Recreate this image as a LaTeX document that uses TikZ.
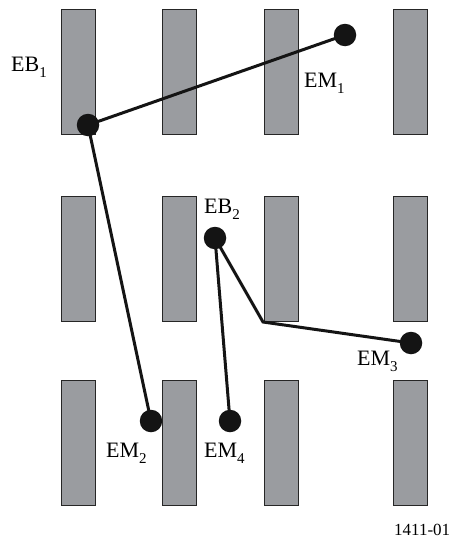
\documentclass[tikz,border=0pt]{standalone}
\usepackage{fontspec}
\setmainfont{Liberation Serif}
\definecolor{bargray}{HTML}{9A9CA0}
\definecolor{dotblack}{HTML}{141414}
\newcommand{\lbl}[2]{#1\raisebox{-6pt}{\fontsize{15}{15}\selectfont #2}}
\begin{document}
\begin{tikzpicture}[x=1pt,y=-1pt,
  bar/.style={draw=black!85,line width=0.8pt,fill=bargray},
  dotn/.style={circle,fill=dotblack,inner sep=0pt,minimum size=22.5pt},
  link/.style={draw=dotblack,line width=3pt},
  lab/.style={anchor=base west,inner sep=0pt,font=\fontsize{22}{22}\selectfont}]
\useasboundingbox (0,0) rectangle (453,538);
\foreach \cx in {61,162,264,393}{
  \foreach \ry in {9,196,380}{
    \draw[bar] (\cx,\ry) rectangle ++(34,125);
  }
}
\coordinate (bend) at (263,322);
\node[dotn] (EB1) at (88,125) {};
\node[dotn] (EM1) at (345,35) {};
\node[dotn] (EB2) at (215,238) {};
\node[dotn] (EM3) at (411,343) {};
\node[dotn] (EM2) at (151,421) {};
\node[dotn] (EM4) at (230,421) {};
\draw[link] (EB1.center) -- (EM1.center);
\draw[link] (EB1.center) -- (EM2.center);
\draw[link] (EB2.center) -- (EM4.center);
\draw[link,line join=miter] (EB2.center) -- (bend) -- (EM3.center);
\node[lab] (tEB1) at (11,71) {\lbl{EB}{1}};
\node[lab] (tEM1) at (304,87) {\lbl{EM}{1}};
\node[lab] (tEB2) at (204,213) {\lbl{EB}{2}};
\node[lab] (tEM3) at (357,365) {\lbl{EM}{3}};
\node[lab] (tEM2) at (106,457) {\lbl{EM}{2}};
\node[lab] (tEM4) at (204,457) {\lbl{EM}{4}};
\node[lab,font=\fontsize{17}{17}\selectfont] (fig) at (394,535) {1411-01};
\end{tikzpicture}
\end{document}
